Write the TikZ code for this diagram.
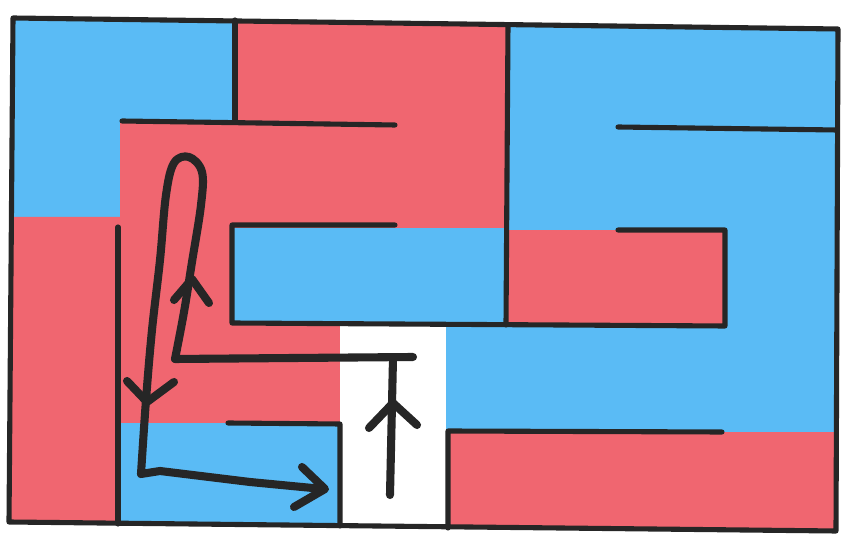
\documentclass[tikz,border=0pt]{standalone}
\usepackage{tikz}

\definecolor{mazeblue}{RGB}{90,187,245}
\definecolor{mazered}{RGB}{240,102,112}

\begin{document}
\begin{tikzpicture}[x=0.02cm, y=-0.02cm,
    wall/.style={line width=2.9pt, line cap=round, line join=round, black!85},
    route/.style={line width=4.6pt, line cap=round, line join=round, black!85}]
    \useasboundingbox (0,0) rectangle (843,540);

    % Coloured areas, clipped to the frame
    \begin{scope}
        \clip (13,18) -- (838,29) -- (836,531) -- (9,522) -- cycle;
        \fill[mazeblue] (0,0) rectangle (843,540);
        \fill[mazered] (235,0) -- (508,0) -- (508,228) -- (232,228) -- (232,325)
            -- (340,325) -- (340,423) -- (120,423) -- (120,540) -- (0,540)
            -- (0,217) -- (120,217) -- (120,122) -- (235,122) -- cycle;
        \fill[mazered] (508,230) rectangle (725,325);
        \fill[white] (340,325) rectangle (446,540);
        \fill[mazered] (446,432) rectangle (843,540);
    \end{scope}

    % Walls
    \draw[wall] (235,20) -- (235,122);
    \draw[wall] (122,121) -- (395,125);
    \draw[wall] (118,227) -- (118,524);
    \draw[wall] (395,225) -- (232,225) -- (232,323) -- (725,326) -- (725,230) -- (618,230);
    \draw[wall] (508,25) -- (506,325);
    \draw[wall] (618,127) -- (837,130);
    \draw[wall] (228,423) -- (340,424) -- (340,526);
    \draw[wall] (722,432) -- (448,431) -- (448,528);

    % Frame
    \draw[wall] (13,18) -- (838,29) -- (836,531) -- (9,522) -- cycle;

    % Route through the maze
    \draw[route] (390,495) -- (393,358);
    \draw[route] (413,357) -- (175,359);
    \draw[route] plot[smooth, tension=0.6] coordinates {(175,359) (184,312) (192,262)
        (201,205) (202,172) (189,157) (174,163) (166,195) (160,260) (152,330)
        (146,400) (141,474)};
    \draw[route] (141,474) -- (160,471) -- (250,482) -- (323,489);

    % Arrowheads
    \draw[route] (369,428) -- (393,403) -- (417,425);
    \draw[route] (174,300) -- (192,279) -- (209,303);
    \draw[route] (127,381) -- (147,402) -- (174,382);
    \draw[route] (302,467) -- (325,489) -- (294,507);
\end{tikzpicture}
\end{document}
